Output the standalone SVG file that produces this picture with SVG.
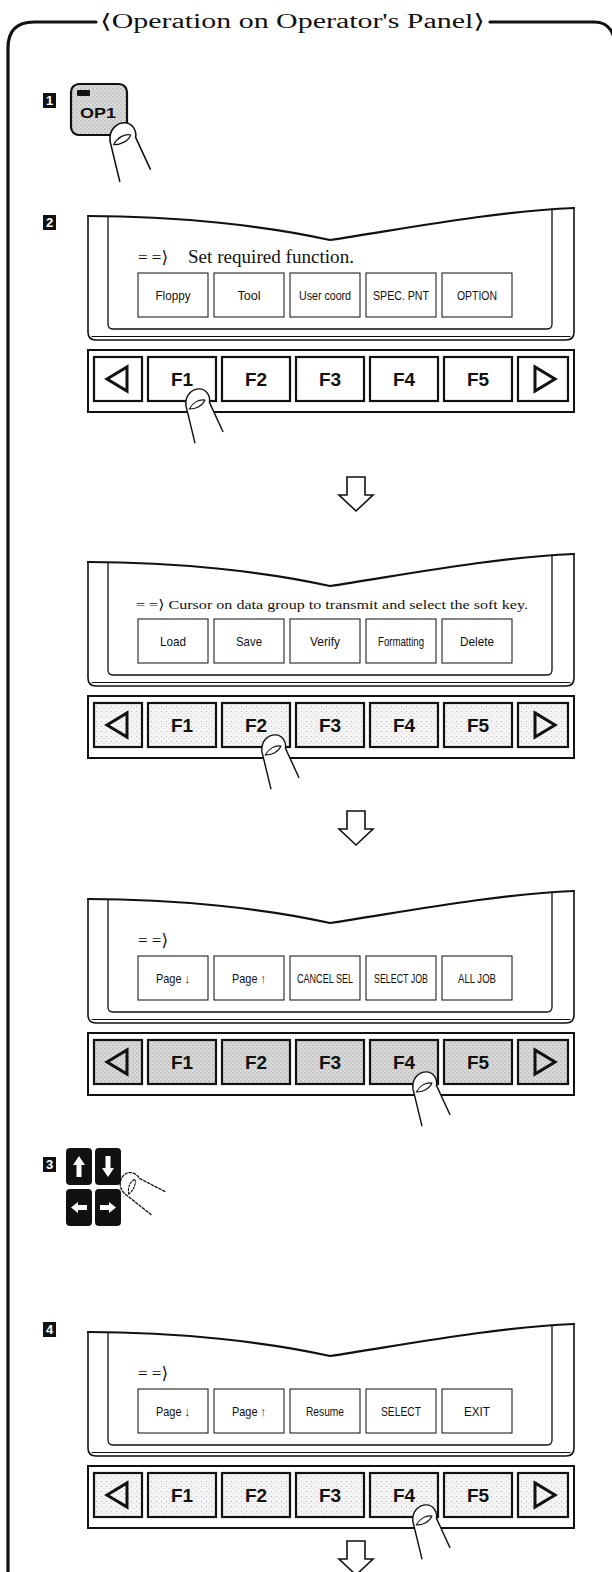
<svg xmlns="http://www.w3.org/2000/svg" xmlns:xlink="http://www.w3.org/1999/xlink" width="612" height="1572" viewBox="0 0 612 1572">
<style>
.ln{fill:none;stroke:#111;stroke-linejoin:round;stroke-linecap:round}
.title{font-family:"Liberation Serif","DejaVu Serif",serif;font-size:20px;fill:#111}
.msg{font-family:"Liberation Serif","DejaVu Serif",serif;fill:#111}
.sk{font-family:"Liberation Sans","DejaVu Sans",sans-serif;font-size:13px;fill:#111;text-anchor:middle}
.skey{fill:#fff;stroke:#222;stroke-width:1.1}
.fk{font-family:"Liberation Sans","DejaVu Sans",sans-serif;font-size:19px;font-weight:bold;fill:#111;text-anchor:middle}
.fkey{stroke:#111;stroke-width:2.2}
.bez{fill:#fff;stroke:#111;stroke-width:2}
.num{font-family:"Liberation Sans","DejaVu Sans",sans-serif;font-size:13px;font-weight:bold;fill:#fff;text-anchor:middle}
.tri{fill:none;stroke:#111;stroke-width:3;stroke-linejoin:miter}
.arrow{fill:#fff;stroke:#111;stroke-width:1.6;stroke-linejoin:miter}
</style>
<defs>
  <pattern id="stipL" width="5" height="5" patternUnits="userSpaceOnUse">
    <rect width="5" height="5" fill="#f4f4f4"/>
    <rect x="1" y="1" width="1" height="1" fill="#bdbdbd"/>
    <rect x="3.5" y="3" width="1" height="1" fill="#cfcfcf"/>
  </pattern>
  <pattern id="stipD" width="4" height="4" patternUnits="userSpaceOnUse">
    <rect width="4" height="4" fill="#dadada"/>
    <rect x="0.5" y="0.5" width="1" height="1" fill="#8a8a8a"/>
    <rect x="2.5" y="2.5" width="1" height="1" fill="#a2a2a2"/>
  </pattern>
  <!-- LCD bezel with wavy top edge; origin at outer top-left -->
  <g id="lcd">
    <path fill="#fff" stroke="none" d="M0,0 C90,0 180,10 242,24 C310,14 400,-4 486,-8 L486,116 Q486,124 478,124 L8,124 Q0,124 0,116 Z"/>
    <path class="ln" stroke-width="1.6" d="M0,0 L0,116 Q0,124 8,124 L478,124 Q486,124 486,116 L486,-8"/>
    <path class="ln" stroke-width="1.1" d="M4,120.5 L482,120.5"/>
    <path class="ln" stroke-width="1.3" d="M20,0.3 L20,108 Q20,113 25,113 L459,113 Q464,113 464,108 L464,-7"/>
    <path class="ln" stroke-width="2.2" d="M0,0 C90,0 180,10 242,24 C310,14 400,-4 486,-8"/>
  </g>
  <!-- pressing fingertip; origin at top of tip -->
  <g id="finger">
    <path fill="#fff" d="M-9,14 C-10,4 -3,-1 3,-1 C9,-1 13,5 12,11 L24,37 L-1,47 Z"/>
    <path class="ln" stroke-width="1.3" d="M-1,47 L-9,14 C-10,4 -3,-1 3,-1 C9,-1 13,5 12,11 L24,37"/>
    <path class="ln" stroke-width="1" d="M-6,17 C-3,11 3,8 8,9 C6,14 0,17 -6,17 Z"/>
  </g>
  <g id="fingerDash">
    <path class="ln" stroke-width="1.3" stroke-dasharray="2.5 1.8" d="M-1,47 L-9,14 C-10,4 -3,-1 3,-1 C9,-1 13,5 12,11 L24,37"/>
    <path class="ln" stroke-width="1.1" stroke-dasharray="2 1.6" d="M-6,17 C-3,11 3,8 8,9 C6,14 0,17 -6,17 Z"/>
  </g>
</defs>

<rect width="612" height="1572" fill="#fff"/>

<!-- outer frame and heading -->
<g id="frame">
  <path class="ln" stroke-width="3.2" d="M8,1575 L8,48 Q8,22 34,22 L96,22"/>
  <path class="ln" stroke-width="3.2" d="M490,22 L594,22 Q610,22 614,38"/>
  <text class="title" x="100" y="28" textLength="385" lengthAdjust="spacingAndGlyphs">⟨Operation on Operator's Panel⟩</text>
</g>

<!-- step 1: OP1 key -->
<g id="step1">
  <rect x="43" y="93" width="13" height="15" fill="#111"/>
  <text class="num" x="49.5" y="105">1</text>
  <rect x="71" y="84" width="56" height="51" rx="8" fill="url(#stipD)" stroke="#111" stroke-width="2.2"/>
  <rect x="77" y="90" width="13" height="6" rx="1" fill="#111"/>
  <text x="80" y="118" font-family="Liberation Sans, DejaVu Sans, sans-serif" font-size="14" font-weight="bold" fill="#111" textLength="36" lengthAdjust="spacingAndGlyphs">OP1</text>
  <use href="#finger" transform="translate(121,124) scale(1.22)"/>
</g>

<!-- step 2, screen A: function select -->
<g id="screenA">
  <rect x="43" y="215" width="13" height="15" fill="#111"/>
  <text class="num" x="49.5" y="227">2</text>
  <use href="#lcd" x="88" y="216"/>
  <text class="msg" x="138" y="263" font-size="17">= =⟩</text>
  <text class="msg" x="188" y="263" font-size="18" textLength="166" lengthAdjust="spacingAndGlyphs">Set required function.</text>
  <rect class="skey" x="138" y="273" width="70" height="44"/>
  <rect class="skey" x="214" y="273" width="70" height="44"/>
  <rect class="skey" x="290" y="273" width="70" height="44"/>
  <rect class="skey" x="366" y="273" width="70" height="44"/>
  <rect class="skey" x="442" y="273" width="70" height="44"/>
  <text class="sk" x="173" y="300" textLength="35" lengthAdjust="spacingAndGlyphs">Floppy</text>
  <text class="sk" x="249" y="300" textLength="23" lengthAdjust="spacingAndGlyphs">Tool</text>
  <text class="sk" x="325" y="300" textLength="52" lengthAdjust="spacingAndGlyphs" font-size="12">User coord</text>
  <text class="sk" x="401" y="300" textLength="56" lengthAdjust="spacingAndGlyphs">SPEC. PNT</text>
  <text class="sk" x="477" y="300" textLength="40" lengthAdjust="spacingAndGlyphs">OPTION</text>
</g>
<g id="keysA">
  <rect class="bez" x="88" y="350" width="486" height="62"/>
  <rect class="fkey" fill="#fff" x="94" y="357" width="48" height="44"/>
  <rect class="fkey" fill="#fff" x="148" y="357" width="68" height="44"/>
  <rect class="fkey" fill="#fff" x="222" y="357" width="68" height="44"/>
  <rect class="fkey" fill="#fff" x="296" y="357" width="68" height="44"/>
  <rect class="fkey" fill="#fff" x="370" y="357" width="68" height="44"/>
  <rect class="fkey" fill="#fff" x="444" y="357" width="68" height="44"/>
  <rect class="fkey" fill="#fff" x="518" y="357" width="50" height="44"/>
  <polygon class="tri" points="107,379 127,367 127,391"/>
  <polygon class="tri" points="535,367 535,391 555,379"/>
  <text class="fk" x="182" y="386">F1</text>
  <text class="fk" x="256" y="386">F2</text>
  <text class="fk" x="330" y="386">F3</text>
  <text class="fk" x="404" y="386">F4</text>
  <text class="fk" x="478" y="386">F5</text>
  <use href="#finger" transform="translate(196,390) scale(1.12)"/>
</g>

<!-- screen B: data group select -->
<g id="screenB">
  <use href="#lcd" x="88" y="562"/>
  <text class="msg" x="136" y="609" font-size="13" textLength="392" lengthAdjust="spacingAndGlyphs">= =⟩ Cursor on data group to transmit and select the soft key.</text>
  <rect class="skey" x="138" y="619" width="70" height="44"/>
  <rect class="skey" x="214" y="619" width="70" height="44"/>
  <rect class="skey" x="290" y="619" width="70" height="44"/>
  <rect class="skey" x="366" y="619" width="70" height="44"/>
  <rect class="skey" x="442" y="619" width="70" height="44"/>
  <text class="sk" x="173" y="646" textLength="26" lengthAdjust="spacingAndGlyphs">Load</text>
  <text class="sk" x="249" y="646" textLength="26" lengthAdjust="spacingAndGlyphs">Save</text>
  <text class="sk" x="325" y="646" textLength="30" lengthAdjust="spacingAndGlyphs">Verify</text>
  <text class="sk" x="401" y="646" textLength="46" lengthAdjust="spacingAndGlyphs" font-size="12">Formatting</text>
  <text class="sk" x="477" y="646" textLength="34" lengthAdjust="spacingAndGlyphs">Delete</text>
</g>
<g id="keysB">
  <rect class="bez" x="88" y="696" width="486" height="62"/>
  <rect class="fkey" fill="url(#stipL)" x="94" y="703" width="48" height="44"/>
  <rect class="fkey" fill="url(#stipL)" x="148" y="703" width="68" height="44"/>
  <rect class="fkey" fill="url(#stipL)" x="222" y="703" width="68" height="44"/>
  <rect class="fkey" fill="url(#stipL)" x="296" y="703" width="68" height="44"/>
  <rect class="fkey" fill="url(#stipL)" x="370" y="703" width="68" height="44"/>
  <rect class="fkey" fill="url(#stipL)" x="444" y="703" width="68" height="44"/>
  <rect class="fkey" fill="url(#stipL)" x="518" y="703" width="50" height="44"/>
  <polygon class="tri" points="107,725 127,713 127,737"/>
  <polygon class="tri" points="535,713 535,737 555,725"/>
  <text class="fk" x="182" y="732">F1</text>
  <text class="fk" x="256" y="732">F2</text>
  <text class="fk" x="330" y="732">F3</text>
  <text class="fk" x="404" y="732">F4</text>
  <text class="fk" x="478" y="732">F5</text>
  <use href="#finger" transform="translate(272,736) scale(1.12)"/>
</g>

<!-- screen C: job select -->
<g id="screenC">
  <use href="#lcd" x="88" y="899"/>
  <text class="msg" x="138" y="946" font-size="17">= =⟩</text>
  <rect class="skey" x="138" y="956" width="70" height="44"/>
  <rect class="skey" x="214" y="956" width="70" height="44"/>
  <rect class="skey" x="290" y="956" width="70" height="44"/>
  <rect class="skey" x="366" y="956" width="70" height="44"/>
  <rect class="skey" x="442" y="956" width="70" height="44"/>
  <text class="sk" x="173" y="983" textLength="34" lengthAdjust="spacingAndGlyphs">Page ↓</text>
  <text class="sk" x="249" y="983" textLength="34" lengthAdjust="spacingAndGlyphs">Page ↑</text>
  <text class="sk" x="325" y="983" textLength="56" lengthAdjust="spacingAndGlyphs" font-size="12">CANCEL SEL</text>
  <text class="sk" x="401" y="983" textLength="54" lengthAdjust="spacingAndGlyphs" font-size="12">SELECT JOB</text>
  <text class="sk" x="477" y="983" textLength="38" lengthAdjust="spacingAndGlyphs" font-size="12">ALL JOB</text>
</g>
<g id="keysC">
  <rect class="bez" x="88" y="1033" width="486" height="62"/>
  <rect class="fkey" fill="url(#stipD)" x="94" y="1040" width="48" height="44"/>
  <rect class="fkey" fill="url(#stipD)" x="148" y="1040" width="68" height="44"/>
  <rect class="fkey" fill="url(#stipD)" x="222" y="1040" width="68" height="44"/>
  <rect class="fkey" fill="url(#stipD)" x="296" y="1040" width="68" height="44"/>
  <rect class="fkey" fill="url(#stipD)" x="370" y="1040" width="68" height="44"/>
  <rect class="fkey" fill="url(#stipD)" x="444" y="1040" width="68" height="44"/>
  <rect class="fkey" fill="url(#stipD)" x="518" y="1040" width="50" height="44"/>
  <polygon class="tri" points="107,1062 127,1050 127,1074"/>
  <polygon class="tri" points="535,1050 535,1074 555,1062"/>
  <text class="fk" x="182" y="1069">F1</text>
  <text class="fk" x="256" y="1069">F2</text>
  <text class="fk" x="330" y="1069">F3</text>
  <text class="fk" x="404" y="1069">F4</text>
  <text class="fk" x="478" y="1069">F5</text>
  <use href="#finger" transform="translate(423,1073) scale(1.12)"/>
</g>

<!-- step 3: cursor keys -->
<g id="step3">
  <rect x="43" y="1157" width="13" height="15" fill="#111"/>
  <text class="num" x="49.5" y="1169">3</text>
  <rect x="66" y="1148" width="26" height="37" rx="4" fill="#111"/>
  <rect x="95" y="1148" width="26" height="37" rx="4" fill="#111"/>
  <rect x="66" y="1189" width="26" height="37" rx="4" fill="#111"/>
  <rect x="95" y="1189" width="26" height="37" rx="4" fill="#111"/>
  <polygon fill="#fff" points="79,1156 85,1165 81.5,1165 81.5,1177 76.5,1177 76.5,1165 73,1165"/>
  <polygon fill="#fff" points="108,1177 114,1168 110.5,1168 110.5,1156 105.5,1156 105.5,1168 102,1168"/>
  <polygon fill="#fff" points="71,1207.5 78,1202 78,1205 87,1205 87,1210 78,1210 78,1213"/>
  <polygon fill="#fff" points="116,1207.5 109,1202 109,1205 100,1205 100,1210 109,1210 109,1213"/>
  <use href="#fingerDash" transform="translate(123,1177) rotate(-38)"/>
</g>

<!-- step 4, screen D -->
<g id="screenD">
  <rect x="43" y="1322" width="13" height="15" fill="#111"/>
  <text class="num" x="49.5" y="1334">4</text>
  <use href="#lcd" x="88" y="1332"/>
  <text class="msg" x="138" y="1379" font-size="17">= =⟩</text>
  <rect class="skey" x="138" y="1389" width="70" height="44"/>
  <rect class="skey" x="214" y="1389" width="70" height="44"/>
  <rect class="skey" x="290" y="1389" width="70" height="44"/>
  <rect class="skey" x="366" y="1389" width="70" height="44"/>
  <rect class="skey" x="442" y="1389" width="70" height="44"/>
  <text class="sk" x="173" y="1416" textLength="34" lengthAdjust="spacingAndGlyphs">Page ↓</text>
  <text class="sk" x="249" y="1416" textLength="34" lengthAdjust="spacingAndGlyphs">Page ↑</text>
  <text class="sk" x="325" y="1416" textLength="38" lengthAdjust="spacingAndGlyphs">Resume</text>
  <text class="sk" x="401" y="1416" textLength="40" lengthAdjust="spacingAndGlyphs">SELECT</text>
  <text class="sk" x="477" y="1416" textLength="26" lengthAdjust="spacingAndGlyphs">EXIT</text>
</g>
<g id="keysD">
  <rect class="bez" x="88" y="1466" width="486" height="62"/>
  <rect class="fkey" fill="url(#stipL)" x="94" y="1473" width="48" height="44"/>
  <rect class="fkey" fill="url(#stipL)" x="148" y="1473" width="68" height="44"/>
  <rect class="fkey" fill="url(#stipL)" x="222" y="1473" width="68" height="44"/>
  <rect class="fkey" fill="url(#stipL)" x="296" y="1473" width="68" height="44"/>
  <rect class="fkey" fill="url(#stipL)" x="370" y="1473" width="68" height="44"/>
  <rect class="fkey" fill="url(#stipL)" x="444" y="1473" width="68" height="44"/>
  <rect class="fkey" fill="url(#stipL)" x="518" y="1473" width="50" height="44"/>
  <polygon class="tri" points="107,1495 127,1483 127,1507"/>
  <polygon class="tri" points="535,1483 535,1507 555,1495"/>
  <text class="fk" x="182" y="1502">F1</text>
  <text class="fk" x="256" y="1502">F2</text>
  <text class="fk" x="330" y="1502">F3</text>
  <text class="fk" x="404" y="1502">F4</text>
  <text class="fk" x="478" y="1502">F5</text>
  <use href="#finger" transform="translate(423,1506) scale(1.12)"/>
</g>

<!-- flow arrows between screens -->
<g id="connectors">
  <polygon class="arrow" points="347,477 365,477 365,495 373,495 356,511 339,495 347,495"/>
  <polygon class="arrow" points="347,811 365,811 365,829 373,829 356,845 339,829 347,829"/>
  <polygon class="arrow" points="347,1541 365,1541 365,1559 373,1559 356,1575 339,1559 347,1559"/>
</g>
</svg>
